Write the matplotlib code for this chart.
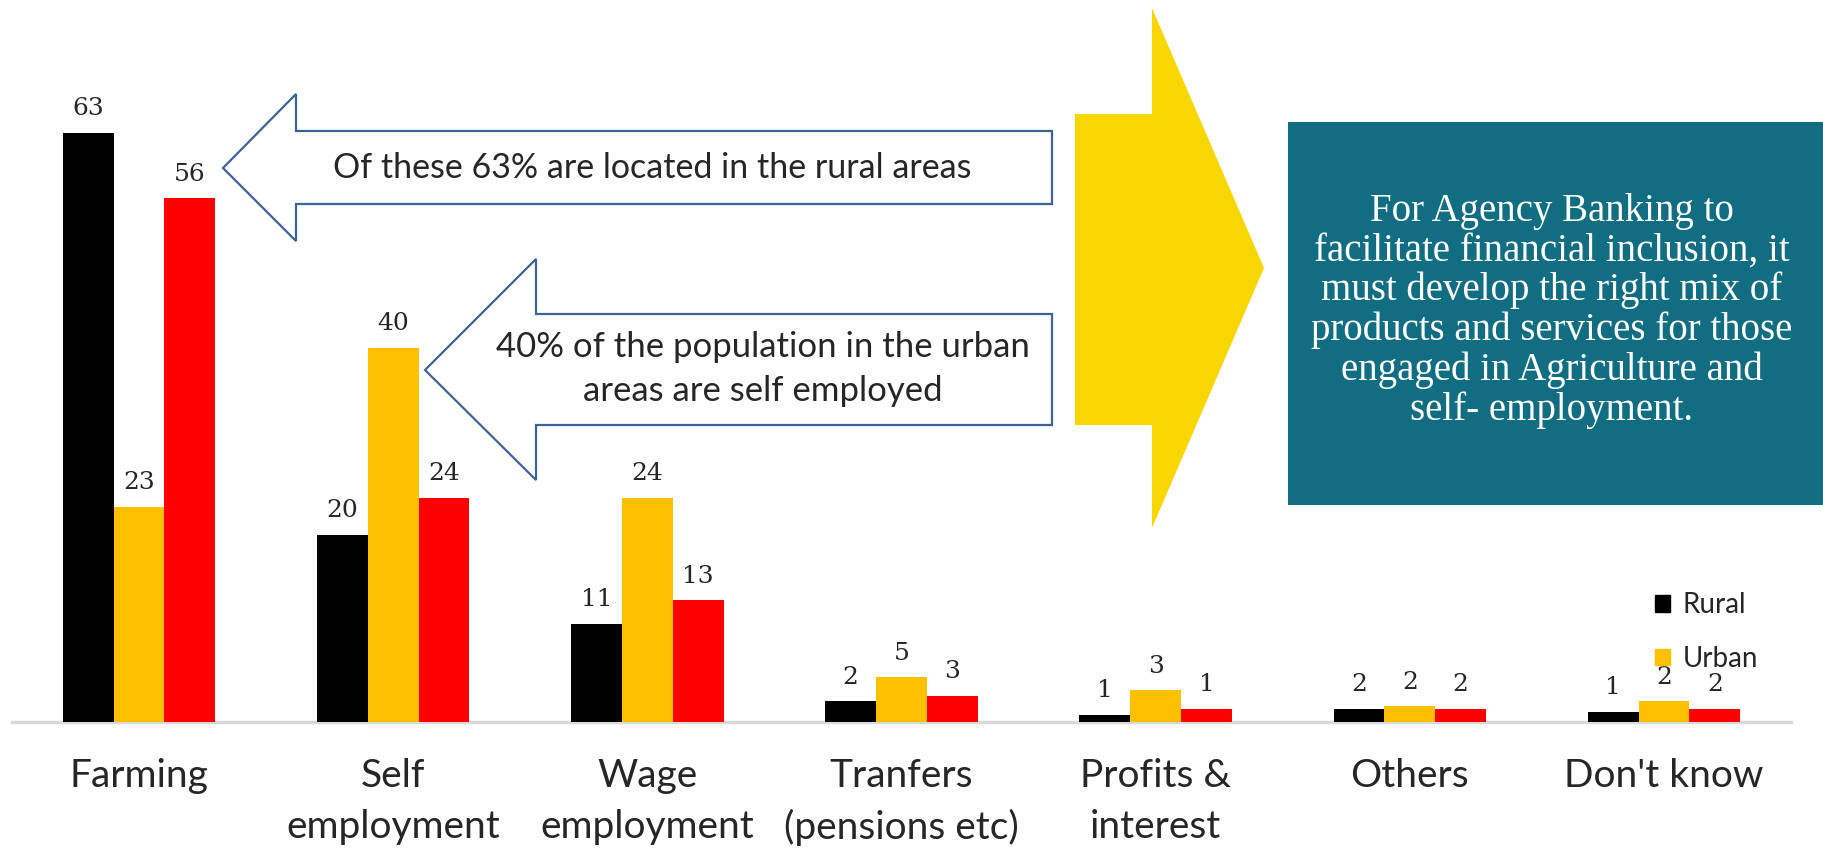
import numpy as np
import matplotlib
matplotlib.use('Agg')
import matplotlib.pyplot as plt
from matplotlib.patches import Polygon, Rectangle, Patch

categories = ['Farming', 'Self\nemployment', 'Wage\nemployment', 'Tranfers\n(pensions etc)',
              'Profits &\ninterest', 'Others', "Don't know"]
# bar heights as drawn, and the numbers printed above them
rural = [63, 20, 10.5, 2.2, 0.8, 1.4, 1.1]
urban = [23, 40, 24, 4.8, 3.4, 1.7, 2.2]
third = [56, 24, 13, 2.8, 1.4, 1.4, 1.4]
rural_labels = [63, 20, 11, 2, 1, 2, 1]
urban_labels = [23, 40, 24, 5, 3, 2, 2]
third_labels = [56, 24, 13, 3, 1, 2, 2]

callout_rural = 'Of these 63% are located in the rural areas'
callout_urban = '40% of the population in the urban\nareas are self employed'
message = ('For Agency Banking to\nfacilitate financial inclusion, it\nmust develop the right mix of\n'
           'products and services for those\nengaged in Agriculture and\nself- employment.')

W, H = 1824, 849
TXT = '#262626'
SANS = 'Lato'

fig = plt.figure(figsize=(W / 100, H / 100), dpi=100)
ax = fig.add_axes([12 / W, 127 / H, (1791 - 12) / W, 722 / H])

x = np.arange(len(categories))
w = 0.2
series = [(rural, rural_labels, '#000000'),
          (urban, urban_labels, '#FFC000'),
          (third, third_labels, '#FF0000')]
for i, (vals, labs, col) in enumerate(series):
    bars = ax.bar(x + (i - 1) * w, vals, w, color=col)
    ax.bar_label(bars, labels=[str(v) for v in labs], padding=9,
                 fontsize=18, family='DejaVu Serif', color=TXT)

ax.set_xlim(-0.5, len(categories) - 0.5)
ax.set_ylim(0, 77.2)
ax.axhline(0, color='#d9d9d9', lw=2.5, clip_on=False, zorder=0)
for s in ax.spines.values():
    s.set_visible(False)
ax.set_yticks([])
ax.set_xticks(x)
ax.set_xticklabels(categories, fontsize=28, family=SANS, color=TXT, linespacing=1.5)
ax.tick_params(axis='x', length=0, pad=26)

ax.legend(handles=[Patch(color='#000000', label='Rural'), Patch(color='#FFC000', label='Urban')],
          loc='upper left', bbox_to_anchor=(1655 / W, 1 - 592 / H), bbox_transform=fig.transFigure,
          frameon=False, prop={'family': SANS, 'size': 20}, labelcolor=TXT,
          handlelength=0.55, handleheight=0.55, handletextpad=0.45, labelspacing=1.0,
          borderpad=0, borderaxespad=0)

# overlay for the call-out shapes, in pixel coordinates
ov = fig.add_axes([0, 0, 1, 1])
ov.set_xlim(0, W)
ov.set_ylim(H, 0)
ov.axis('off')

edge = '#3E6396'
arrow1 = [(223, 168), (296, 94), (296, 131), (1052, 131), (1052, 204), (296, 204), (296, 241)]
arrow2 = [(425, 370), (536, 259), (536, 314), (1052, 314), (1052, 425), (536, 425), (536, 480)]
for pts in (arrow1, arrow2):
    ov.add_patch(Polygon(pts, closed=True, facecolor='white', edgecolor=edge, lw=1.6))
ov.text(652, 168, callout_rural, ha='center', va='center', fontsize=24.5, family=SANS, color=TXT)
ov.text(763, 369, callout_urban, ha='center', va='center', fontsize=25, family=SANS, color=TXT,
        linespacing=1.45)

big = [(1075, 114), (1152, 114), (1152, 8), (1264, 268), (1152, 528), (1152, 425), (1075, 425)]
ov.add_patch(Polygon(big, closed=True, facecolor='#F8D700', edgecolor='none'))

ov.add_patch(Rectangle((1288, 122), W - 1288, 505 - 122, facecolor='#116D81', edgecolor='none'))
ov.text(1552, 311, message, ha='center', va='center', fontsize=28, family='Liberation Serif',
        color='white', linespacing=1.08)

fig.savefig('out.png', dpi=100)
